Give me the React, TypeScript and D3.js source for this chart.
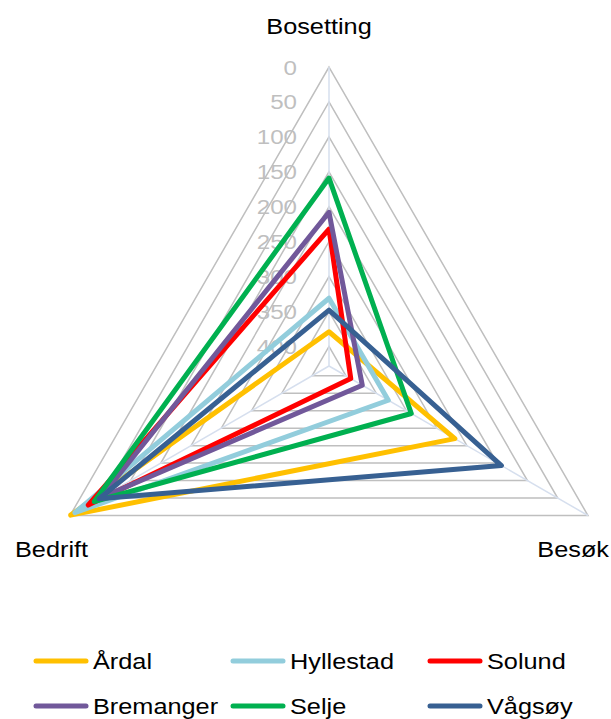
import { useEffect, useRef } from "react";
import * as d3 from "d3";

const axes = ["Bosetting", "Besøk", "Bedrift"];
const seriesNames = ["Årdal", "Hyllestad", "Solund", "Bremanger", "Selje", "Vågsøy"];
const seriesColors = ["#FFC000", "#92CDDC", "#FF0000", "#71589A", "#00B050", "#376092"];
// values per series: [Bosetting, Besøk, Bedrift] (rank, lower = further out)
const ardal = [379, 220, 1];
const hyllestad = [331, 330, 8];
const solund = [232, 392, 30];
const bremanger = [208, 373, 50];
const selje = [159, 292, 40];
const vagsoy = [348, 143, 48];
const tickValues = [0, 50, 100, 150, 200, 250, 300, 350, 400];
const axisMax = 428;

const seriesData = [ardal, hyllestad, solund, bremanger, selje, vagsoy];

export default function App() {
  const ref = useRef<SVGSVGElement>(null);

  useEffect(() => {
    if (!ref.current) return;
    const svg = d3.select(ref.current);
    svg.selectAll("*").remove();

    const width = 611;
    const height = 719;
    const cx = 329;
    const cy = 366;
    const R = 299;
    const font = "'Liberation Sans', Arial, sans-serif";
    const stretch = 1.15;

    svg.attr("width", width).attr("height", height);

    const r = d3.scaleLinear().domain([0, axisMax]).range([R, 0]);
    const angle = (i: number) => -Math.PI / 2 + (i * 2 * Math.PI) / axes.length;
    const pt = (i: number, v: number): [number, number] => [
      cx + r(v) * Math.cos(angle(i)),
      cy + r(v) * Math.sin(angle(i)),
    ];

    const g = svg.append("g");

    // grid triangles
    tickValues.forEach((t) => {
      g.append("polygon")
        .attr("points", axes.map((_, i) => pt(i, t).join(",")).join(" "))
        .attr("fill", "none")
        .attr("stroke", "#BFBFBF")
        .attr("stroke-width", 1.5);
    });

    // spokes
    axes.forEach((_, i) => {
      const [x, y] = pt(i, 0);
      g.append("line")
        .attr("x1", cx)
        .attr("y1", cy)
        .attr("x2", x)
        .attr("y2", y)
        .attr("stroke", "#D6DFEE")
        .attr("stroke-width", 1.5);
    });

    // tick labels
    tickValues.forEach((t) => {
      const [, y] = pt(0, t);
      g.append("text")
        .attr("transform", `translate(297,${y}) scale(${stretch},1)`)
        .attr("text-anchor", "end")
        .attr("dy", "0.36em")
        .attr("font-family", font)
        .attr("font-size", 21)
        .attr("fill", "#BFBFBF")
        .text(t);
    });

    // series
    const line = d3
      .line<[number, number]>()
      .x((d) => d[0])
      .y((d) => d[1])
      .curve(d3.curveLinearClosed);

    seriesData.forEach((vals, s) => {
      g.append("path")
        .attr("d", line(vals.map((v, i) => pt(i, v))))
        .attr("fill", "none")
        .attr("stroke", seriesColors[s])
        .attr("stroke-width", 5)
        .attr("stroke-linejoin", "round");
    });

    // axis labels (top, bottom-right, bottom-left)
    const labelPos: [number, number, string][] = [
      [319, 34, "middle"],
      [609, 557, "end"],
      [15, 557, "start"],
    ];
    axes.forEach((name, i) => {
      const [x, y, anchor] = labelPos[i];
      g.append("text")
        .attr("transform", `translate(${x},${y}) scale(${stretch},1)`)
        .attr("text-anchor", anchor)
        .attr("font-family", font)
        .attr("font-size", 22)
        .attr("fill", "#000")
        .text(name);
    });

    // legend
    const legend = g.append("g");
    const colX = [36, 233, 430];
    const rowY = [661, 706];
    seriesNames.forEach((name, i) => {
      const x = colX[i % 3];
      const y = rowY[Math.floor(i / 3)];
      legend
        .append("line")
        .attr("x1", x)
        .attr("x2", x + 50)
        .attr("y1", y)
        .attr("y2", y)
        .attr("stroke", seriesColors[i])
        .attr("stroke-width", 5)
        .attr("stroke-linecap", "round");
      legend
        .append("text")
        .attr("transform", `translate(${x + 57},${y}) scale(${stretch},1)`)
        .attr("dy", "0.36em")
        .attr("font-family", font)
        .attr("font-size", 22)
        .attr("fill", "#000")
        .text(name);
    });
  }, []);

  return (
    <div style={{ position: "absolute", left: 0, top: 0 }}>
      <svg ref={ref} style={{ display: "block" }} />
    </div>
  );
}
